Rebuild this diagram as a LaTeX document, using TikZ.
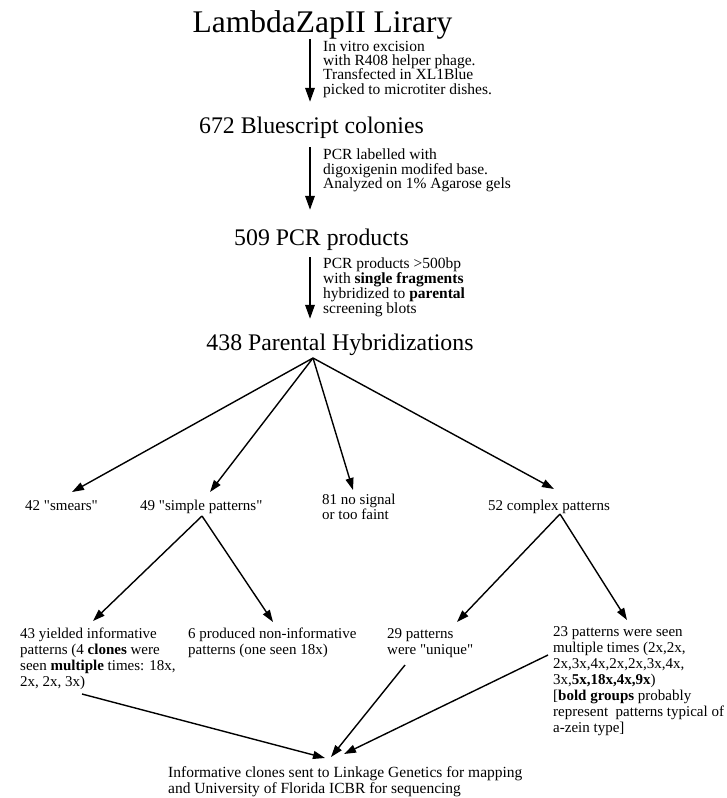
\documentclass[tikz,border=0pt]{standalone}
\usepackage{fontspec}
\setmainfont{Liberation Serif}
\usetikzlibrary{arrows.meta}
\newcommand{\qq}{\textquotedbl}
\begin{document}
\begin{tikzpicture}[x=1pt,y=-1pt,
  stage/.style={inner sep=0pt, anchor=base, font=\fontsize{23.8}{28}\selectfont},
  note/.style={inner sep=0pt, anchor=base west, align=left, font=\fontsize{15.5}{14.4}\selectfont},
  lbl/.style={inner sep=0pt, anchor=base west, align=left, font=\fontsize{15}{16}\selectfont},
  down/.style={line width=1.8pt, -{Triangle[length=14pt,width=9.5pt]}},
  branch/.style={line width=1.4pt, -{Triangle[length=12pt,width=8pt]}},
]
\useasboundingbox (0,0) rectangle (727,798);

% main pipeline
\node[inner sep=0pt, anchor=base, font=\fontsize{31.5}{36}\selectfont] (lib) at (322.5,32) {LambdaZapII Lirary};
\node[stage] (col) at (311.5,133) {672 Bluescript colonies};
\node[stage] (pcr) at (321.5,245) {509 PCR products};
\node[stage] (hyb) at (340,350) {438 Parental Hybridizations};

\coordinate (stem) at (310,0);
\draw[down, shorten >=14.5pt] (lib.south -| stem) -- (col.north -| stem);
\draw[down, shorten <=9pt, shorten >=18.5pt] (col.south -| stem) -- (pcr.north -| stem);
\draw[down, shorten <=6.8pt, shorten >=14.5pt] (pcr.south -| stem) -- (hyb.north -| stem);

% multi-line nodes sit on the baseline of their last line
\node[note] (n1) at (323,94.2) {In vitro excision\\with R408 helper phage.\\Transfected in XL1Blue\\picked to microtiter dishes.};
\node[note, font=\fontsize{15.5}{14.6}\selectfont] (n2) at (323,188.7) {PCR labelled with\\digoxigenin modifed base.\\Analyzed on 1\% Agarose gels};
\node[note, font=\fontsize{15.5}{15}\selectfont] (n3) at (323,313) {PCR products >500bp\\with \textbf{single fragments}\\hybridized to \textbf{parental}\\screening blots};

% first split
\coordinate (hub) at (313,358);
\node[lbl] (smear) at (25,510) {42 \qq smears\qq};
\node[lbl] (simple) at (140,510) {49 \qq simple patterns\qq};
\node[lbl, font=\fontsize{15}{15.5}\selectfont] (nosig) at (322,519.5) {81 no signal\\or too faint};
\node[lbl] (cplx) at (488,510) {52 complex patterns};

\coordinate (t1) at (72,492);
\coordinate (t2) at (210,492);
\coordinate (t3) at (353,490);
\coordinate (t4) at (554,489);
\draw[branch] (hub) -- (t1);
\draw[branch] (hub) -- (t2);
\draw[branch] (hub) -- (t3);
\draw[branch] (hub) -- (t4);

% second split
\coordinate (ssplit) at (202,516);
\coordinate (csplit) at (560,514);
\coordinate (u1) at (93,621);
\coordinate (u2) at (273,622);
\coordinate (u3) at (457,622);
\coordinate (u4) at (627,620);
\draw[branch] (ssplit) -- (u1);
\draw[branch] (ssplit) -- (u2);
\draw[branch] (csplit) -- (u3);
\draw[branch] (csplit) -- (u4);

\node[lbl] (yield) at (20,686) {43 yielded informative\\patterns (4 \textbf{clones} were\\seen \textbf{multiple} times: 18x,\\2x, 2x, 3x)};
\node[lbl] (nonin) at (188,654) {6 produced non-informative\\patterns (one seen 18x)};
\node[lbl] (uniq) at (387,654) {29 patterns\\were \qq unique\qq};
\node[lbl] (multi) at (553,732) {23 patterns were seen\\multiple times (2x,2x,\\2x,3x,4x,2x,2x,3x,4x,\\3x,\textbf{5x,18x,4x,9x})\\{[}\textbf{bold groups} probably\\represent\hspace{0.5em}patterns typical of\\a-zein type]};

% convergence on the final step
\coordinate (a43) at (82,694);
\coordinate (a29) at (405,665);
\coordinate (a23) at (548,655);
\coordinate (m1) at (325,758);
\coordinate (m2) at (331,757);
\coordinate (m3) at (344,754);
\draw[branch] (a43) -- (m1);
\draw[branch] (a29) -- (m2);
\draw[branch] (a23) -- (m3);

\node[lbl, font=\fontsize{15.5}{16}\selectfont] (final) at (168,793) {Informative clones sent to Linkage Genetics for mapping\\and University of Florida ICBR for sequencing};
\end{tikzpicture}
\end{document}
